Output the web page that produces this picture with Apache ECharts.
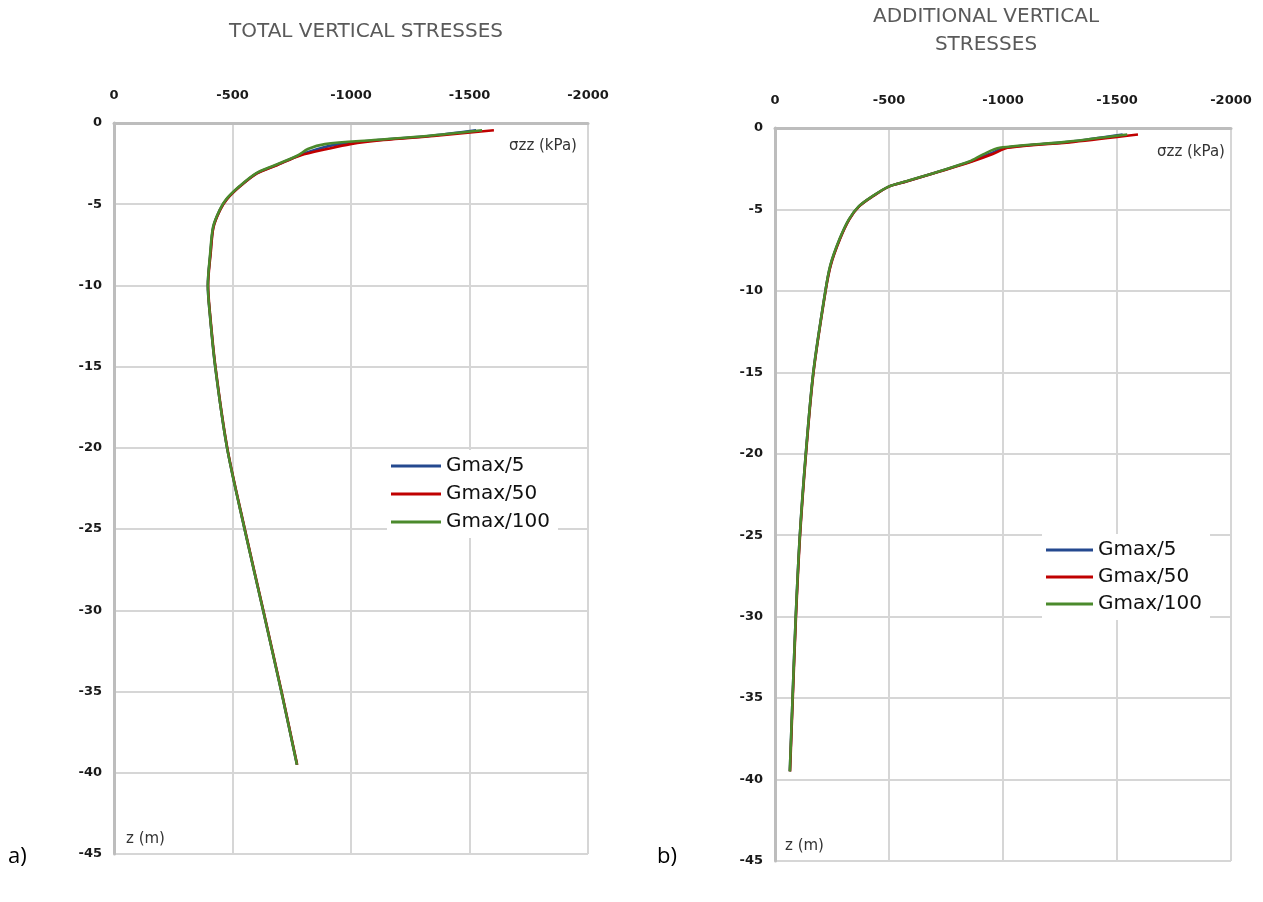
<!DOCTYPE html>
<html>
<head>
<meta charset="utf-8">
<script src="https://cdn.jsdelivr.net/npm/echarts@6/dist/echarts.min.js"></script>
<style>
  html, body { margin: 0; padding: 0; background: #fff; }
  #chart { width: 1263px; height: 902px; }
</style>
</head>
<body>
<div id="chart"></div>
<script>
// Depth below ground (m) and vertical stress (kPa) profiles
const seriesNames = ['Gmax/5', 'Gmax/50', 'Gmax/100'];
const seriesColors = ['#24498f', '#c00000', '#4b8a2c'];

const xTicks = [0, -500, -1000, -1500, -2000];
const yTicks = [0, -5, -10, -15, -20, -25, -30, -35, -40, -45];

// a) total vertical stresses
const depthTotal = [-0.45, -0.8, -1.05, -1.3, -1.6, -2.0, -2.6, -3.1, -3.9, -4.7, -5.35, -6.4, -8, -10, -11.7, -15, -20, -25, -30, -35, -39.5];
const totalG5   = [-1528, -1330, -1115, -950, -860, -780, -684, -602, -531, -475, -447, -419, -407, -396, -404, -427, -477, -551, -629, -706, -772];
const totalG50  = [-1603, -1349, -1138, -997, -899, -786, -687, -603, -532, -476, -448, -420, -408, -397, -405, -428, -478, -552, -630, -707, -773];
const totalG100 = [-1553, -1320, -1096, -890, -818, -775, -678, -599, -529, -473, -446, -418, -406, -396, -404, -427, -477, -551, -629, -706, -772];

// b) additional vertical stresses
const depthAdd = [-0.4, -0.85, -1.21, -1.6, -2.06, -2.67, -3.28, -3.58, -4.19, -4.8, -5.61, -6.82, -8.4, -10, -15, -20, -25, -30, -35, -39.5];
const addG5   = [-1525, -1290, -1010, -940, -858, -720, -575, -501, -428, -369, -325, -284, -244, -221, -168, -135, -109, -91, -77, -65];
const addG50  = [-1592, -1310, -1020, -955, -864, -722, -576, -502, -429, -370, -326, -285, -245, -222, -169, -136, -110, -92, -78, -66];
const addG100 = [-1545, -1275, -985, -915, -852, -718, -573, -500, -427, -368, -324, -283, -243, -221, -168, -135, -109, -91, -77, -65];

function pairs(xs, zs) { return xs.map((x, i) => [x, zs[i]]); }

const labelFont = { fontFamily: 'DejaVu Sans', fontWeight: 'bold', fontSize: 13, color: '#1a1a1a' };
const axisLineStyle = { color: '#bdbdbd', width: 3 };
const gridLineStyle = { color: '#d6d6d6', width: 2 };

function xAxisFor(gridIndex) {
  return {
    gridIndex, type: 'value', position: 'top', inverse: true,
    min: xTicks[xTicks.length - 1], max: xTicks[0], interval: 500,
    axisLine: { show: true, lineStyle: axisLineStyle },
    axisTick: { show: false },
    splitLine: { show: true, lineStyle: gridLineStyle },
    axisLabel: Object.assign({ margin: 21, formatter: v => String(v) }, labelFont)
  };
}
function yAxisFor(gridIndex) {
  return {
    gridIndex, type: 'value',
    min: yTicks[yTicks.length - 1], max: yTicks[0], interval: 5,
    axisLine: { show: true, onZero: false, lineStyle: axisLineStyle },
    axisTick: { show: false },
    splitLine: { show: true, lineStyle: gridLineStyle },
    axisLabel: Object.assign({ margin: 12, formatter: v => String(v) }, labelFont)
  };
}
function lineSeries(name, color, data, idx) {
  return {
    name, type: 'line', xAxisIndex: idx, yAxisIndex: idx,
    data, smooth: 0.3, showSymbol: false, symbol: 'none',
    lineStyle: { color, width: 2.6 }, itemStyle: { color },
    animation: false
  };
}
function legendFor(left, top, gap, width) {
  return {
    orient: 'vertical', left, top,
    icon: 'rect', itemWidth: width, itemHeight: 3, itemGap: gap,
    backgroundColor: '#fff', padding: [6, 8, 6, 4],
    data: seriesNames,
    textStyle: { fontFamily: 'DejaVu Sans', fontSize: 20, color: '#111', lineHeight: 20, padding: [0, 0, 0, 0] }
  };
}
const titleStyle = { fontFamily: 'DejaVu Sans', fontSize: 20, fill: '#5a5a5a' };
const nameStyle = { fontFamily: 'DejaVu Sans', fontSize: 15, fill: '#333' };

const chart = echarts.init(document.getElementById('chart'), null, { renderer: 'canvas' });
chart.setOption({
  animation: false,
  backgroundColor: '#fff',
  grid: [
    { left: 114, top: 123, width: 474, height: 731 },
    { left: 775, top: 128, width: 456, height: 733 }
  ],
  xAxis: [xAxisFor(0), xAxisFor(1)],
  yAxis: [yAxisFor(0), yAxisFor(1)],
  legend: [legendFor(387, 450, 8, 50), legendFor(1042, 534, 7, 47)],
  series: [
    lineSeries(seriesNames[0], seriesColors[0], pairs(totalG5, depthTotal), 0),
    lineSeries(seriesNames[1], seriesColors[1], pairs(totalG50, depthTotal), 0),
    lineSeries(seriesNames[2], seriesColors[2], pairs(totalG100, depthTotal), 0),
    lineSeries(seriesNames[0], seriesColors[0], pairs(addG5, depthAdd), 1),
    lineSeries(seriesNames[1], seriesColors[1], pairs(addG50, depthAdd), 1),
    lineSeries(seriesNames[2], seriesColors[2], pairs(addG100, depthAdd), 1)
  ],
  graphic: [
    { type: 'text', style: Object.assign({ text: 'TOTAL VERTICAL STRESSES', x: 366, y: 32, align: 'center', verticalAlign: 'middle' }, titleStyle) },
    { type: 'text', style: Object.assign({ text: 'ADDITIONAL VERTICAL\nSTRESSES', x: 986, y: 31, align: 'center', verticalAlign: 'middle', lineHeight: 28 }, titleStyle) },
    { type: 'text', style: Object.assign({ text: 'σzz (kPa)', x: 509, y: 146, verticalAlign: 'middle' }, nameStyle) },
    { type: 'text', style: Object.assign({ text: 'σzz (kPa)', x: 1157, y: 152, verticalAlign: 'middle' }, nameStyle) },
    { type: 'text', style: Object.assign({ text: 'z (m)', x: 126, y: 839, verticalAlign: 'middle' }, nameStyle) },
    { type: 'text', style: Object.assign({ text: 'z (m)', x: 785, y: 846, verticalAlign: 'middle' }, nameStyle) },
    { type: 'text', style: { text: 'a)', x: 8, y: 857, verticalAlign: 'middle', fontFamily: 'Open Sans', fontSize: 22, fill: '#000' } },
    { type: 'text', style: { text: 'b)', x: 657, y: 857, verticalAlign: 'middle', fontFamily: 'Open Sans', fontSize: 22, fill: '#000' } }
  ]
});
</script>
</body>
</html>
